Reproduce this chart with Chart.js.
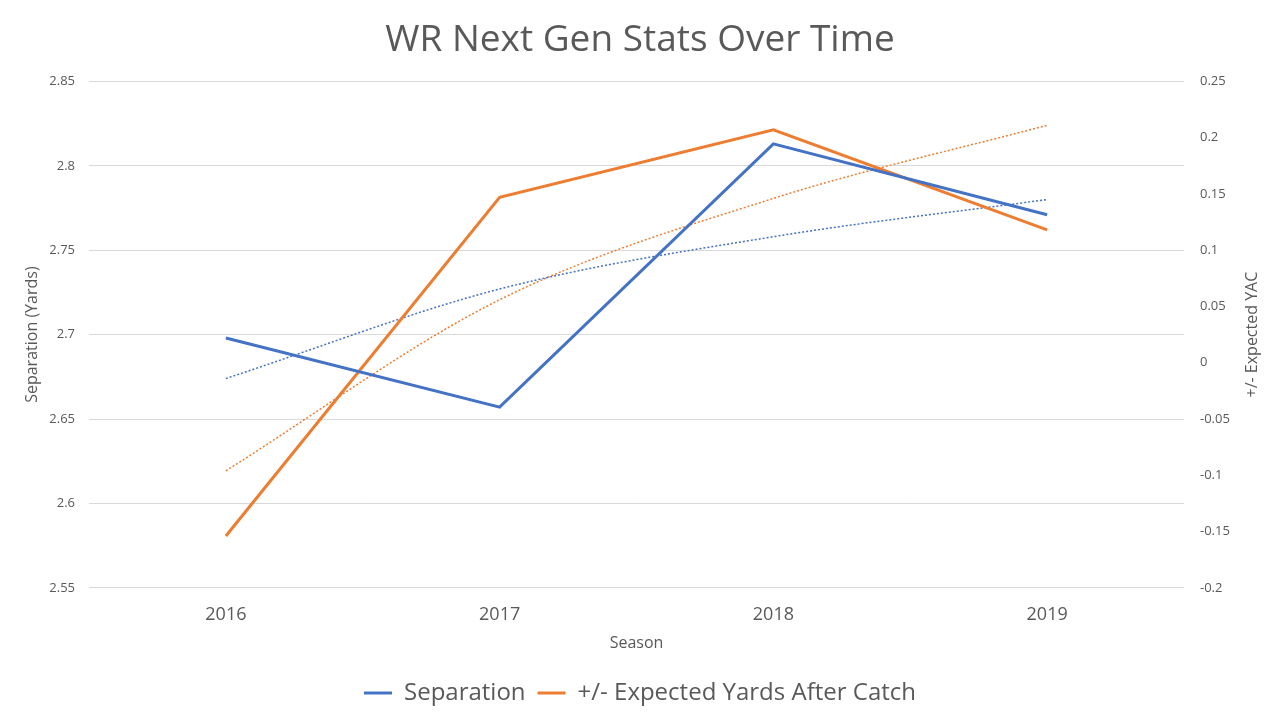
<!DOCTYPE html>
<html>
<head>
<meta charset="utf-8">
<script src="https://cdn.jsdelivr.net/npm/chart.js@4.4.1/dist/chart.umd.min.js"></script>
<style>
  body { margin: 0; background: #fff; }
  #wrap { width: 1280px; height: 720px; }
</style>
</head>
<body>
<div id="wrap"><canvas id="myChart"></canvas></div>
<script>
// WR next gen stats chart
const seasons = ['2016', '2017', '2018', '2019'];
const separation = [2.698, 2.657, 2.813, 2.771];
const yac = [-0.154, 0.147, 0.207, 0.118];
// dotted trendlines at each season
const separationTrend = [2.674, 2.727, 2.758, 2.780];
const yacTrend = [-0.096, 0.056, 0.146, 0.211];

const textColor = '#595959';
const fontFamily = '"Open Sans", "Noto Sans", sans-serif';

// excel style tick text: 2.8 not 2.80
const shortNum = v => String(Number(v.toFixed(2)));

// right axis title reads bottom to top, like the left one
const rightTitle = {
    id: 'rightTitle',
    afterDraw(chart) {
        const c = chart.ctx;
        const area = chart.chartArea;
        c.save();
        c.translate(1252, (area.top + area.bottom) / 2);
        c.rotate(-Math.PI / 2);
        c.fillStyle = textColor;
        c.font = '16px ' + fontFamily;
        c.textAlign = 'center';
        c.textBaseline = 'middle';
        c.fillText('+/- Expected YAC', 0, 0);
        c.restore();
    }
};

const ctx = document.getElementById('myChart').getContext('2d');

const myChart = new Chart(ctx, {
    type: 'line',
    data: {
        labels: seasons,
        datasets: [{
            label: 'Separation',
            data: separation,
            borderColor: '#4472C4',
            backgroundColor: '#4472C4',
            borderWidth: 3,
            pointRadius: 0,
            yAxisID: 'y'
        }, {
            label: '+/- Expected Yards After Catch',
            data: yac,
            borderColor: '#ED7D31',
            backgroundColor: '#ED7D31',
            borderWidth: 3,
            pointRadius: 0,
            yAxisID: 'y1'
        }, {
            label: 'trend1',
            data: separationTrend,
            borderColor: '#4472C4',
            borderWidth: 1.5,
            borderDash: [2, 2],
            pointRadius: 0,
            cubicInterpolationMode: 'monotone',
            yAxisID: 'y'
        }, {
            label: 'trend2',
            data: yacTrend,
            borderColor: '#ED7D31',
            borderWidth: 1.5,
            borderDash: [2, 2],
            pointRadius: 0,
            cubicInterpolationMode: 'monotone',
            yAxisID: 'y1'
        }]
    },
    options: {
        responsive: true,
        maintainAspectRatio: false,
        animation: false,
        layout: { padding: { top: 0, bottom: 5, left: 0, right: 0 } },
        plugins: {
            title: {
                display: true,
                text: 'WR Next Gen Stats Over Time',
                color: textColor,
                font: { family: fontFamily, size: 37, weight: 'normal' },
                padding: { top: 18, bottom: 19 }
            },
            legend: {
                position: 'bottom',
                labels: {
                    color: textColor,
                    font: { family: fontFamily, size: 24 },
                    usePointStyle: true,
                    pointStyle: 'line',
                    pointStyleWidth: 28,
                    padding: 12,
                    filter: item => item.text.indexOf('trend') !== 0
                }
            },
            tooltip: { enabled: false }
        },
        scales: {
            x: {
                offset: true,
                grid: { display: false },
                border: { display: false },
                ticks: {
                    color: textColor,
                    font: { family: fontFamily, size: 18, lineHeight: 1 },
                    padding: 10
                },
                title: {
                    display: true,
                    text: 'Season',
                    color: textColor,
                    font: { family: fontFamily, size: 16 },
                    padding: { top: 0, bottom: 16 }
                }
            },
            y: {
                position: 'left',
                min: 2.55,
                max: 2.85,
                ticks: {
                    stepSize: 0.05,
                    color: textColor,
                    font: { family: fontFamily, size: 13 },
                    padding: 14,
                    callback: shortNum
                },
                grid: { color: '#d9d9d9', drawTicks: false },
                border: { display: false },
                title: {
                    display: true,
                    text: 'Separation (Yards)',
                    color: textColor,
                    font: { family: fontFamily, size: 16 },
                    padding: { top: 23, bottom: 0 }
                },
                afterFit: scale => { scale.width = 89; }
            },
            y1: {
                position: 'right',
                min: -0.2,
                max: 0.25,
                ticks: {
                    stepSize: 0.05,
                    color: textColor,
                    font: { family: fontFamily, size: 13 },
                    padding: 16,
                    callback: shortNum
                },
                grid: { display: false, drawTicks: false },
                border: { display: false },
                afterFit: scale => { scale.width = 96; }
            }
        }
    },
    plugins: [rightTitle]
});
</script>
</body>
</html>
